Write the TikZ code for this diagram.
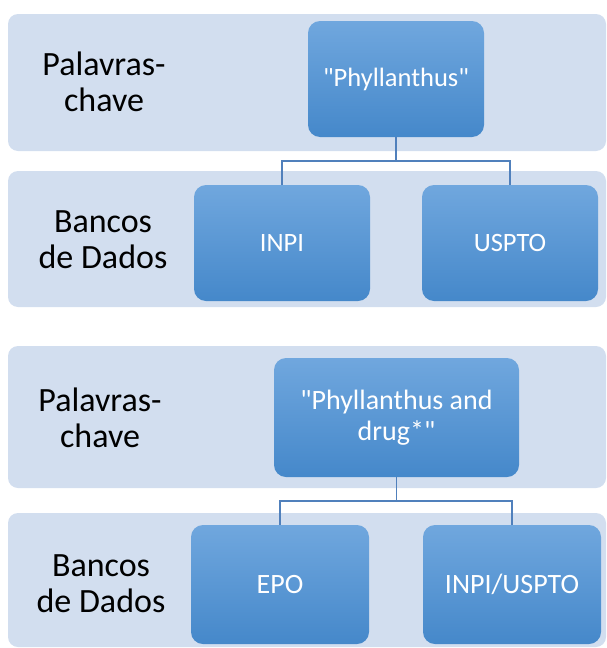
\documentclass[tikz,border=0pt]{standalone}
\usepackage{fontspec}
\setmainfont{Carlito}
\newfontfamily\boxfont{Carlito}
\begin{document}
\begin{tikzpicture}[x=1pt,y=-1pt,
  band/.style={fill=bandc, draw=none, rounded corners=10pt},
  lbl/.style={align=center, text=black, font=\fontsize{34}{36}\selectfont, inner sep=0pt},
  bluebox/.style={rectangle, rounded corners=12pt, top color=boxtop, bottom color=boxbot, draw=none,
     text=white, align=center, inner sep=0pt},
  conn/.style={draw=connc, line width=1.6pt}]
\definecolor{bandc}{RGB}{210,222,239}
\definecolor{boxtop}{RGB}{112,167,222}
\definecolor{boxbot}{RGB}{69,136,202}
\definecolor{connc}{RGB}{80,128,188}
\useasboundingbox (0,0) rectangle (607,648);
% bands
\path[band] (8,14) rectangle (606,151);
\path[band] (8,171) rectangle (606,307);
\path[band] (8,346) rectangle (606,488);
\path[band] (8,513) rectangle (606,647);
% labels
\node[lbl] (l1) at (104,82) {Palavras-\\chave};
\node[lbl] (l2) at (103,240) {Bancos\\de Dados};
\node[lbl] (l3) at (100,418) {Palavras-\\chave};
\node[lbl] (l4) at (101,584) {Bancos\\de Dados};
% top diagram
\node[bluebox, minimum width=176pt, minimum height=116pt, font=\boxfont\fontsize{26.5}{30}\selectfont] (p1) at (396,79) {"Phyllanthus"};
\node[bluebox, minimum width=176pt, minimum height=116pt, font=\boxfont\fontsize{26.5}{30}\selectfont] (inpi) at (282,243) {INPI};
\node[bluebox, minimum width=176pt, minimum height=116pt, font=\boxfont\fontsize{26.5}{30}\selectfont] (uspto) at (510,243) {USPTO};
\draw[conn] (p1.south) -- ++(0,24) -| (inpi.north);
\draw[conn] (p1.south) -- ++(0,24) -| (uspto.north);
% bottom diagram
\node[bluebox, minimum width=245pt, minimum height=119pt, font=\boxfont\fontsize{28}{31}\selectfont] (p2) at (396.5,417.5) {"Phyllanthus and\\drug*"};
\node[bluebox, minimum width=178pt, minimum height=119pt, font=\boxfont\fontsize{28}{31}\selectfont] (epo) at (280,584.5) {EPO};
\node[bluebox, minimum width=178pt, minimum height=119pt, font=\boxfont\fontsize{28}{31}\selectfont] (iu) at (512,584.5) {INPI/USPTO};
\draw[conn] (p2.south) -- ++(0,24) -| (epo.north);
\draw[conn] (p2.south) -- ++(0,24) -| (iu.north);
\end{tikzpicture}
\end{document}
